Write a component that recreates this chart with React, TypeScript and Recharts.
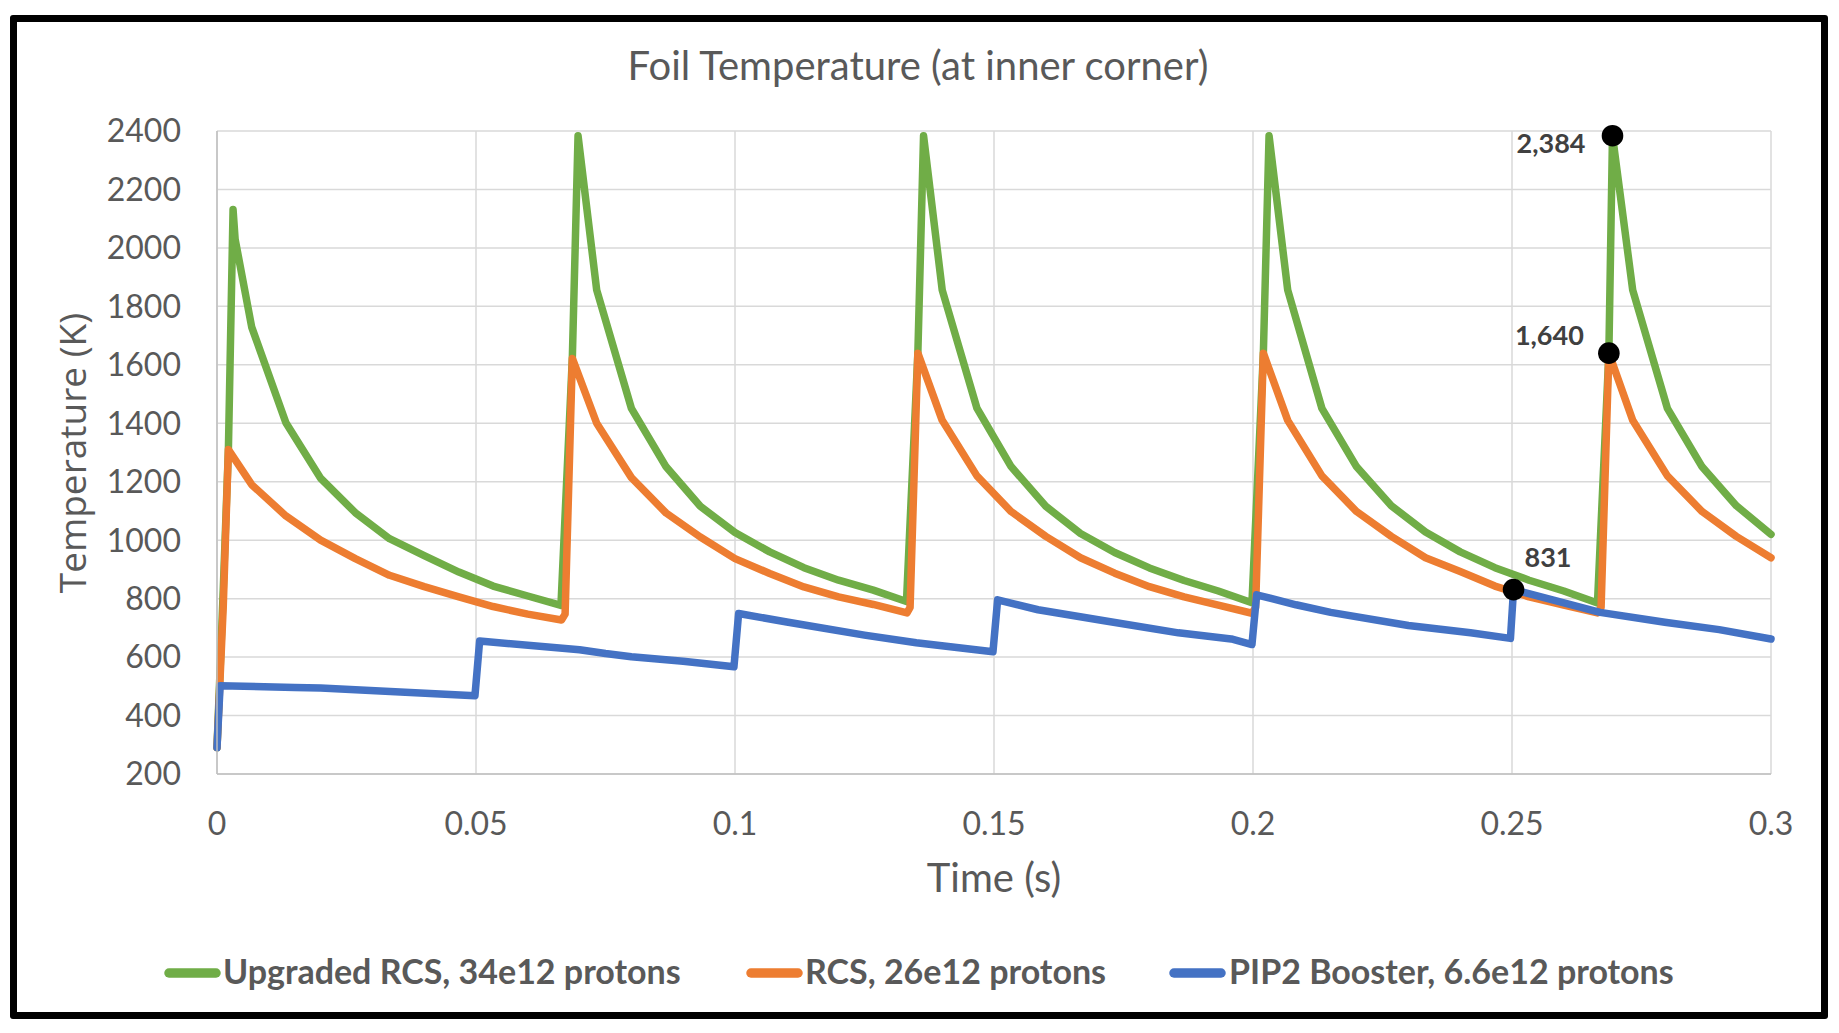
import React from 'react';
import { LineChart, Line, XAxis, YAxis, CartesianGrid, ReferenceDot } from 'recharts';

// Foil temperature at the inner corner
const upgradedTime = [
  0, 0.0011, 0.0022, 0.0031, 0.0035, 0.0067, 0.0133, 0.02, 0.0267, 0.0333, 0.04, 0.0467, 0.0533, 0.06, 0.0664,
  0.0686, 0.0697, 0.0733, 0.08, 0.0867, 0.0933, 0.1, 0.1067, 0.1133, 0.12, 0.1267, 0.1331,
  0.1353, 0.1364, 0.14, 0.1467, 0.1533, 0.16, 0.1667, 0.1733, 0.18, 0.1867, 0.1933, 0.1998,
  0.202, 0.2031, 0.2067, 0.2133, 0.22, 0.2267, 0.2333, 0.24, 0.2467, 0.2533, 0.26, 0.2665,
  0.2687, 0.2694, 0.2733, 0.28, 0.2867, 0.2933, 0.3,
];
const upgradedTemp = [
  290, 780, 1310, 2131, 2030, 1729, 1402, 1212, 1094, 1005, 947, 891, 843, 809, 777,
  1625, 2384, 1856, 1451, 1251, 1116, 1026, 960, 906, 863, 829, 790,
  1640, 2384, 1856, 1452, 1252, 1116, 1023, 958, 905, 862, 826, 786,
  1640, 2384, 1856, 1451, 1251, 1118, 1028, 960, 906, 863, 826, 785,
  1640, 2384, 1856, 1451, 1251, 1118, 1020,
];

const rcsTime = [
  0, 0.0012, 0.0022, 0.0067, 0.0133, 0.02, 0.0267, 0.0333, 0.04, 0.0467, 0.0533, 0.06, 0.0665,
  0.0672, 0.0686, 0.0733, 0.08, 0.0867, 0.0933, 0.1, 0.1067, 0.1133, 0.12, 0.1267, 0.1332,
  0.1338, 0.1353, 0.14, 0.1467, 0.1533, 0.16, 0.1667, 0.1733, 0.18, 0.1867, 0.1933, 0.1998,
  0.2005, 0.202, 0.2067, 0.2133, 0.22, 0.2267, 0.2333, 0.24, 0.2467, 0.2533, 0.26, 0.2665,
  0.2672, 0.2687, 0.2733, 0.28, 0.2867, 0.2933, 0.3,
];
const rcsTemp = [
  290, 770, 1310, 1190, 1083, 1000, 937, 880, 841, 806, 773, 747, 727,
  747, 1622, 1400, 1214, 1093, 1011, 937, 886, 840, 806, 780, 751,
  770, 1640, 1410, 1220, 1098, 1013, 940, 887, 841, 806, 778, 750,
  770, 1640, 1410, 1220, 1098, 1013, 940, 893, 843, 806, 778, 751,
  770, 1640, 1410, 1220, 1098, 1013, 940,
];

const boosterTime = [
  0, 0.0006, 0.015, 0.02, 0.0498,
  0.0507, 0.07, 0.075, 0.08, 0.09, 0.0998,
  0.1007, 0.11, 0.125, 0.135, 0.1498,
  0.1507, 0.1585, 0.171, 0.1856, 0.1958, 0.1998,
  0.2007, 0.2083, 0.215, 0.23, 0.242, 0.2497,
  0.2503, 0.267, 0.2795, 0.29, 0.3,
];
const boosterTemp = [
  290, 502, 496, 494, 468,
  655, 625, 612, 601, 586, 567,
  749, 720, 675, 649, 618,
  796, 762, 725, 683, 662, 643,
  813, 779, 753, 708, 683, 664,
  831, 753, 719, 694, 662,
];

const seriesNames = [
  'Upgraded RCS, 34e12 protons',
  'RCS, 26e12 protons',
  'PIP2 Booster, 6.6e12 protons',
];

const timeTicks = [0, 0.05, 0.1, 0.15, 0.2, 0.25, 0.3];
const tempTicks = [200, 400, 600, 800, 1000, 1200, 1400, 1600, 1800, 2000, 2200, 2400];

// highlighted points with data labels
const markTime = [0.2694, 0.2687, 0.2503];
const markTemp = [2384, 1640, 831];
const markText = ['2,384', '1,640', '831'];

const toPoints = (ts: number[], vs: number[]) => ts.map((t, i) => ({ t, temp: vs[i] }));

const series = [
  { name: seriesNames[0], data: toPoints(upgradedTime, upgradedTemp), color: '#70AD47' },
  { name: seriesNames[1], data: toPoints(rcsTime, rcsTemp), color: '#ED7D31' },
  { name: seriesNames[2], data: toPoints(boosterTime, boosterTemp), color: '#4472C4' },
];

const labelPlacement = [
  { dx: -27, dy: 17, anchor: 'end' },
  { dx: -25, dy: -8, anchor: 'end' },
  { dx: 11, dy: -23, anchor: 'start' },
];

const legendPlacement = [
  { x: 164, textX: 223 },
  { x: 746, textX: 805 },
  { x: 1169, textX: 1229 },
];

const W = 1839;
const H = 1033;
const textGray = '#595959';
const tickStyle = { fill: textGray, fontSize: 32, fontFamily: 'Lato' };

const markShape = (i: number) => (props: any) => {
  const p = labelPlacement[i];
  return (
    <g>
      <circle cx={props.cx} cy={props.cy} r={10.8} fill="#000" />
      <text
        x={props.cx + p.dx}
        y={props.cy + p.dy}
        textAnchor={p.anchor}
        fill="#404040"
        fontFamily="Lato"
        fontWeight="bold"
        fontSize={27}
      >
        {markText[i]}
      </text>
    </g>
  );
};

export default function App() {
  return (
    <div style={{ position: 'relative', width: W, height: H, background: '#fff' }}>
      <style>{'body{margin:0}'}</style>
      <LineChart width={W} height={H} margin={{ top: 131, right: 68, bottom: 199, left: 97 }}>
        <CartesianGrid stroke="#D9D9D9" strokeWidth={1.5} />
        <XAxis
          type="number"
          dataKey="t"
          domain={[0, 0.3]}
          ticks={timeTicks}
          interval={0}
          height={60}
          axisLine={{ stroke: '#BFBFBF', strokeWidth: 1.5 }}
          tickLine={false}
          tickSize={8}
          tickMargin={30}
          tick={tickStyle}
        />
        <YAxis
          type="number"
          domain={[200, 2400]}
          ticks={tempTicks}
          interval={0}
          width={120}
          axisLine={{ stroke: '#BFBFBF', strokeWidth: 1.5 }}
          tickLine={false}
          tickSize={8}
          tickMargin={28}
          tick={tickStyle}
        />
        {series.map((s) => (
          <Line
            key={s.name}
            name={s.name}
            data={s.data}
            dataKey="temp"
            type="linear"
            stroke={s.color}
            strokeWidth={7.5}
            strokeLinejoin="round"
            strokeLinecap="round"
            dot={false}
            activeDot={false}
            isAnimationActive={false}
          />
        ))}
        {markTime.map((t, i) => (
          <ReferenceDot key={markText[i]} x={t} y={markTemp[i]} r={10.8} shape={markShape(i)} />
        ))}
      </LineChart>

      <svg width={W} height={H} style={{ position: 'absolute', left: 0, top: 0, pointerEvents: 'none' }}>
        <text x={918} y={80} textAnchor="middle" fill={textGray} fontFamily="Lato" fontSize={40}>
          Foil Temperature (at inner corner)
        </text>
        <text x={994} y={892} textAnchor="middle" fill={textGray} fontFamily="Lato" fontSize={40}>
          Time (s)
        </text>
        <text
          x={86}
          y={453}
          transform="rotate(-90 86 453)"
          textAnchor="middle"
          fill={textGray}
          fontFamily="Open Sans"
          fontSize={37}
        >
          Temperature (K)
        </text>
        {series.map((s, i) => (
          <g key={s.name}>
            <line
              x1={legendPlacement[i].x + 5}
              x2={legendPlacement[i].x + 52}
              y1={973}
              y2={973}
              stroke={s.color}
              strokeWidth={9.5}
              strokeLinecap="round"
            />
            <text
              x={legendPlacement[i].textX}
              y={984}
              fill={textGray}
              fontFamily="Lato"
              fontWeight="bold"
              fontSize={34}
            >
              {s.name}
            </text>
          </g>
        ))}
      </svg>

      <div
        style={{
          position: 'absolute',
          left: 10,
          top: 15,
          width: 1818,
          height: 1004,
          boxSizing: 'border-box',
          border: '7px solid #000',
          borderRadius: 3,
          pointerEvents: 'none',
        }}
      />
    </div>
  );
}
